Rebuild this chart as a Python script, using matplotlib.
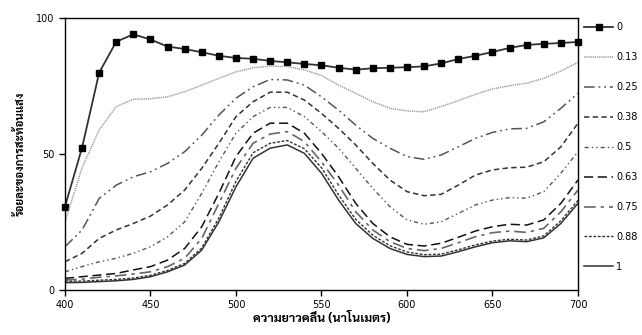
import matplotlib
matplotlib.use('Agg')
import matplotlib.pyplot as plt

# wavelength (nm) and reflectance (%)
wavelength = list(range(400, 701, 10))

r_0 = [30.7, 52.4, 80.0, 91.4, 94.1, 92.2, 89.6, 88.7, 87.5, 86.2, 85.4,
       85.1, 84.3, 83.8, 83.2, 82.7, 81.8, 81.1, 81.6, 81.8, 82.0,
       82.3, 83.4, 85.0, 86.2, 87.6, 89.1, 90.2, 90.6, 90.9, 91.3]
r_013 = [25.1, 45.0, 58.9, 67.5, 70.2, 70.4, 71.1, 73.0, 75.4, 77.9, 80.3,
         81.8, 82.4, 82.2, 81.0, 79.0, 75.4, 72.4, 69.3, 66.9, 65.9,
         65.6, 67.5, 69.7, 72.0, 74.0, 75.2, 76.1, 77.9, 80.6, 83.8]
r_025 = [15.9, 22.1, 33.7, 38.6, 41.7, 43.5, 46.6, 50.9, 57.0, 64.4, 70.6,
         74.8, 77.5, 77.3, 75.4, 71.1, 66.2, 60.7, 55.8, 52.2, 49.1,
         48.1, 49.7, 52.7, 55.8, 58.0, 59.3, 59.5, 61.9, 66.9, 72.4]
r_038 = [10.4, 13.5, 19.0, 22.1, 24.5, 27.2, 31.3, 36.8, 44.8, 54.0, 63.8,
         69.3, 72.8, 72.8, 69.9, 65.0, 59.5, 53.4, 46.6, 40.5, 36.2,
         34.7, 35.2, 38.6, 42.3, 44.2, 45.0, 45.2, 47.2, 52.7, 61.4]
r_05 = [6.7, 8.6, 10.4, 11.7, 13.5, 15.9, 19.6, 25.1, 35.6, 47.2, 57.7,
        63.8, 67.2, 67.2, 63.8, 58.3, 52.2, 44.8, 37.4, 30.7, 25.8,
        24.2, 25.1, 28.2, 31.3, 33.1, 34.0, 33.8, 36.2, 43.0, 50.9]
r_063 = [4.3, 4.9, 5.5, 6.1, 7.4, 8.6, 11.0, 15.3, 23.3, 35.6, 49.1,
         57.7, 61.4, 61.4, 57.7, 50.3, 41.7, 31.9, 24.5, 19.6, 16.8,
         16.2, 17.2, 19.4, 21.7, 23.3, 24.2, 23.9, 25.8, 31.9, 40.5]
r_075 = [3.7, 4.0, 4.7, 5.2, 5.9, 6.7, 8.6, 11.7, 19.0, 31.9, 44.8,
         54.0, 57.4, 58.3, 54.6, 47.2, 38.6, 28.8, 22.1, 17.8, 15.3,
         14.5, 15.3, 17.4, 19.6, 21.1, 21.7, 21.2, 22.7, 28.8, 36.8]
r_088 = [3.2, 3.3, 3.6, 3.9, 4.4, 5.4, 7.2, 9.8, 15.5, 26.5, 40.0,
         50.5, 54.0, 55.0, 52.0, 45.0, 35.0, 26.0, 20.2, 16.3, 14.0,
         13.0, 13.2, 14.8, 16.6, 18.0, 18.7, 18.4, 19.9, 25.5, 33.0]
r_1 = [2.7, 2.8, 3.1, 3.4, 3.9, 4.9, 6.7, 9.2, 14.7, 25.1, 38.0,
       48.5, 52.2, 53.4, 50.3, 43.0, 33.1, 24.5, 19.0, 15.3, 13.1,
       12.3, 12.5, 14.1, 15.9, 17.4, 18.1, 17.8, 19.2, 24.5, 31.9]

labels = ['0', '0.13', '0.25', '0.38', '0.5', '0.63', '0.75', '0.88', '1']
series = [r_0, r_013, r_025, r_038, r_05, r_063, r_075, r_088, r_1]

styles = [
    dict(color='#333333', lw=1.3, ls='-', marker='s', ms=4.5, mfc='black',
         mec='black', clip_on=False),
    dict(color='#9a9a9a', lw=1.1, ls=(0, (0.8, 0.6))),
    dict(color='#555555', lw=1.1, ls=(0, (7, 2.5, 1.2, 2.5, 1.2, 2.5))),
    dict(color='#333333', lw=1.1, ls=(0, (3.5, 2.2))),
    dict(color='#555555', lw=1.0, ls=(0, (3, 2.2, 1, 2.2, 1, 2.2))),
    dict(color='#111111', lw=1.1, ls=(0, (6, 3))),
    dict(color='#666666', lw=1.2, ls=(0, (7, 3, 2, 3))),
    dict(color='#333333', lw=1.0, ls=(0, (2, 1.2))),
    dict(color='#333333', lw=1.1, ls='-'),
]

fig = plt.figure(figsize=(6.42, 3.35), dpi=100)
ax = fig.add_axes([0.1012, 0.1343, 0.7991, 0.8111])

for y, lab, st in zip(series, labels, styles):
    ax.plot(wavelength, y, label=lab, **st)

ax.set_xlim(400, 700)
ax.set_ylim(0, 100)
ax.set_xticks(range(400, 701, 50))
ax.set_yticks([0, 50, 100])
ax.tick_params(labelsize=7, length=4, width=1, direction='out', top=False, right=False)
for s in ax.spines.values():
    s.set_linewidth(1)

thai = ['Sarabun', 'Noto Sans Thai', 'DejaVu Sans']
ax.set_xlabel('ความยาวคลื่น (นาโนเมตร)', family=thai, fontsize=9,
              fontweight='bold', labelpad=1)
ax.set_ylabel('ร้อยละของการสะท้อนแสง', family=thai, fontsize=8.2,
              fontweight='bold', labelpad=7)

ax.legend(loc='upper left', bbox_to_anchor=(1.012, 0.985), frameon=False,
          fontsize=7, handlelength=3.0, handletextpad=0.3, labelspacing=2.05,
          borderpad=0, borderaxespad=0)

fig.savefig('out.png')
